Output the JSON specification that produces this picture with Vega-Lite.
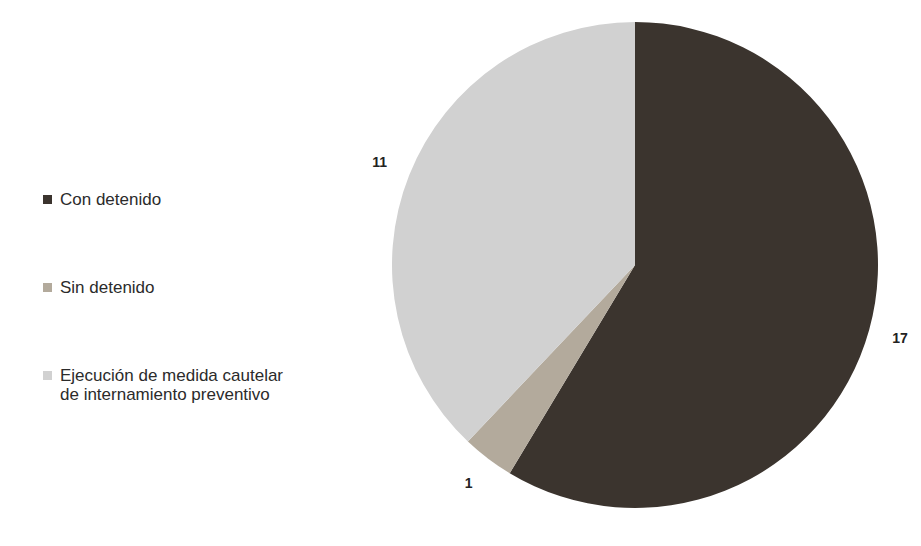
{
  "$schema": "https://vega.github.io/schema/vega-lite/v6.json",
  "width": 486,
  "height": 486,
  "autosize": {"type": "none"},
  "padding": {"left": 392, "top": 22, "right": 43, "bottom": 38},
  "background": "white",
  "data": {
    "values": [
      {"categoria": "Con detenido", "casos": 17, "orden": 1},
      {"categoria": "Sin detenido", "casos": 1, "orden": 2},
      {"categoria": "Ejecución de medida cautelar de internamiento preventivo", "casos": 11, "orden": 3}
    ]
  },
  "encoding": {
    "theta": {"field": "casos", "type": "quantitative", "stack": true},
    "order": {"field": "orden", "type": "quantitative"}
  },
  "layer": [
    {
      "mark": {"type": "arc", "outerRadius": 243},
      "encoding": {
        "color": {
          "field": "categoria",
          "type": "nominal",
          "sort": null,
          "scale": {
            "domain": ["Con detenido", "Sin detenido", "Ejecución de medida cautelar de internamiento preventivo"],
            "range": ["#3b342e", "#b3aa9c", "#d1d1d1"]
          },
          "legend": {
            "title": null,
            "orient": "none",
            "legendX": -353,
            "legendY": 169,
            "symbolType": "square",
            "symbolSize": 81,
            "symbolStrokeWidth": 0,
            "labelFont": "Liberation Sans",
            "labelFontSize": 17,
            "labelColor": "#2b2b2b",
            "labelLimit": 400,
            "labelOffset": 4,
            "rowPadding": 70,
            "labelExpr": "datum.label == 'Ejecución de medida cautelar de internamiento preventivo' ? ['Ejecución de medida cautelar', 'de internamiento preventivo'] : datum.label"
          }
        }
      }
    },
    {
      "mark": {"type": "text", "radius": 275, "fontSize": 14, "fontWeight": "bold", "font": "Liberation Sans", "color": "#222222"},
      "encoding": {"text": {"field": "casos", "type": "quantitative"}}
    }
  ],
  "config": {"view": {"stroke": null}}
}
